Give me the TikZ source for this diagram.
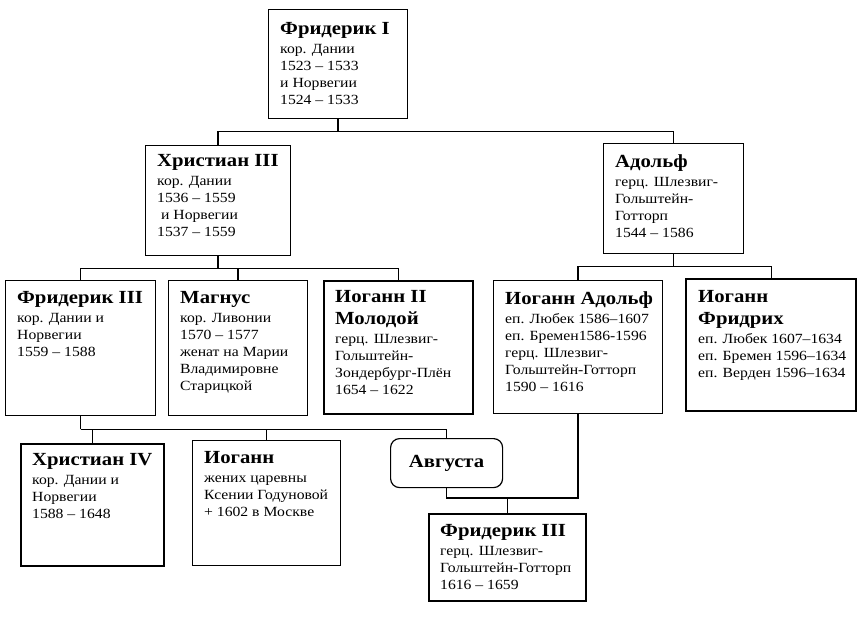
\documentclass[tikz,border=0pt]{standalone}
\usepackage{fontspec}
\setmainfont[FakeStretch=1.12]{Liberation Serif}
\usetikzlibrary{calc, positioning}

\tikzset{
  card/.style 2 args={draw, anchor=north west, inner sep=0pt, line width=1.2pt,
    minimum width=#1, minimum height=#2},
  heavy/.style={line width=2.4pt},
  txt/.style={anchor=north west, align=left, inner sep=0pt,
    font=\fontsize{14}{17}\selectfont},
  link/.style={line width=1.4pt},
}
\newcommand{\who}[1]{{\fontsize{18.5}{22}\selectfont\bfseries #1}}

\begin{document}
\begin{tikzpicture}[x=1pt, y=-1pt]
  \useasboundingbox (0,0) rectangle (860,622);

  % first generation
  \node[card={139pt}{109pt}] (fred1) at (268,9) {};
  \node[txt] (fred1txt) at ([shift={(12,13)}]fred1.north west)
    {\who{Фридерик I}\\[2pt]кор. Дании\\1523 – 1533\\и Норвегии\\1524 – 1533};

  % second generation
  \node[card={145pt}{110pt}] (chr3) at (145,145) {};
  \node[txt] (chr3txt) at ([shift={(12,9)}]chr3.north west)
    {\who{Христиан III}\\[2pt]кор. Дании\\1536 – 1559\\\ и Норвегии\\1537 – 1559};
  \node[card={140pt}{110pt}] (adolf) at (603,143) {};
  \node[txt] (adolftxt) at ([shift={(12,11)}]adolf.north west)
    {\who{Адольф}\\[2pt]герц. Шлезвиг-\\Гольштейн-\\Готторп\\1544 – 1586};

  % third generation
  \node[card={150pt}{135pt}] (fred3) at (5,280) {};
  \node[txt] (fred3txt) at ([shift={(12,11)}]fred3.north west)
    {\who{Фридерик III}\\[2pt]кор. Дании и\\Норвегии\\1559 – 1588};
  \node[card={139pt}{135pt}] (magnus) at (168,280) {};
  \node[txt] (magnustxt) at ([shift={(12,11)}]magnus.north west)
    {\who{Магнус}\\[2pt]кор. Ливонии\\1570 – 1577\\женат на Марии\\Владимировне\\Старицкой};
  \node[card={149pt}{133pt}, heavy] (johann2) at (323,280) {};
  \node[txt] (johann2txt) at ([shift={(12,10)}]johann2.north west)
    {\who{Иоганн II}\\[5pt]\who{Молодой}\\[2pt]герц. Шлезвиг-\\Гольштейн-\\Зондербург-Плён\\1654 – 1622};
  \node[card={169pt}{133pt}] (jadolf) at (493,280) {};
  \node[txt] (jadolftxt) at ([shift={(12,11)}]jadolf.north west)
    {\who{Иоганн Адольф}\\[2pt]еп. Любек 1586–1607\\еп. Бремен1586-1596\\герц. Шлезвиг-\\Гольштейн-Готторп\\1590 – 1616};
  \node[card={170pt}{132pt}, heavy] (jfried) at (685,278) {};
  \node[txt] (jfriedtxt) at ([shift={(13,12)}]jfried.north west)
    {\who{Иоганн}\\[5pt]\who{Фридрих}\\[2pt]еп. Любек 1607–1634\\еп. Бремен 1596–1634\\еп. Верден 1596–1634};

  % fourth generation
  \node[card={143pt}{122pt}, heavy] (chr4) at (20,443) {};
  \node[txt] (chr4txt) at ([shift={(12,10)}]chr4.north west)
    {\who{Христиан IV}\\[2pt]кор. Дании и\\Норвегии\\1588 – 1648};
  \node[card={148pt}{125pt}] (johann) at (192,440) {};
  \node[txt] (johanntxt) at ([shift={(12,11)}]johann.north west)
    {\who{Иоганн}\\[2pt]жених царевны\\Ксении Годуновой\\+ 1602 в Москве};
  \node[card={112pt}{49pt}, rounded corners=9pt] (augusta) at (390,438)
    {\who{Августа}};
  \node[card={157pt}{87pt}, heavy] (fred3g) at (428,513) {};
  \node[txt] (fred3gtxt) at ([shift={(12,11)}]fred3g.north west)
    {\who{Фридерик III}\\[2pt]герц. Шлезвиг-\\Гольштейн-Готторп\\1616 – 1659};

  % lines of descent
  \draw[link] (fred1.south) -- ++(0,12) coordinate (fam1);
  \draw[link] (fam1) -| (chr3.north);
  \draw[link] (fam1) -| (adolf.north);

  \draw[link] (chr3.south) -- ++(0,12) coordinate (fam2);
  \draw[link] (fam2) -| (fred3.north);
  \draw[link] (fam2) -| (magnus.north);
  \draw[link] (fam2) -| (johann2.north);

  \draw[link] (adolf.south) -- ++(0,12) coordinate (fam3);
  \draw[link] (fam3) -| (jadolf.north);
  \draw[link] (fam3) -| (jfried.north);

  \draw[link] (fred3.south) -- ++(0,13) coordinate (fam4);
  \draw[link] (fam4) -| (chr4.north);
  \draw[link] (fam4) -| (johann.north);
  \draw[link] (fam4) -| (augusta.north);

  % marriage
  \coordinate (wed) at ($(fred3g.north)+(0,-15)$);
  \draw[link] (augusta.south) |- (wed) -| (jadolf.south);
  \draw[link] (wed) -- (fred3g.north);
\end{tikzpicture}
\end{document}
